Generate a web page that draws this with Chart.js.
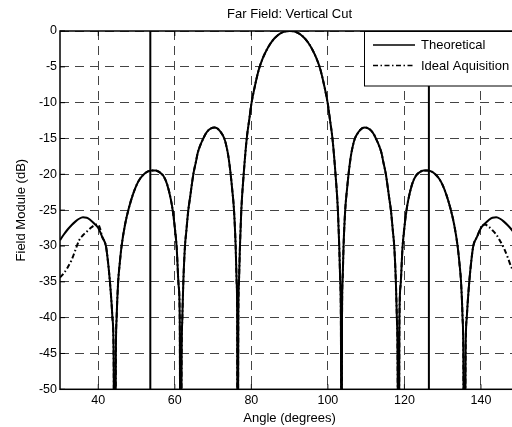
<!DOCTYPE html>
<html><head><meta charset="utf-8">
<script src="https://cdn.jsdelivr.net/npm/chart.js@4.4.1/dist/chart.umd.min.js"></script>
<style>html,body{margin:0;padding:0;overflow:hidden;background:#fff;} canvas{display:block;}</style>
</head><body>
<canvas id="c" width="540" height="427" style="width:540px;height:427px"></canvas>
<script>
const chartTitle = 'Far Field: Vertical Cut';
const xTitle = 'Angle (degrees)';
const yTitle = 'Field Module (dB)';
const seriesNames = ['Theoretical', 'Ideal Aquisition'];
const xTicks = [40, 60, 80, 100, 120, 140];
const yTicks = [-50, -45, -40, -35, -30, -25, -20, -15, -10, -5, 0];

const thAngles = [
  30,31,32,33,34,35,36,37,38,39,40,41,42,42.5,43,43.5,43.7,44,44.32,
  44.6,44.8,45.2,45.6,46.1,47,48,49,50,51,52,53,54,55,56,57,58,59,59.5,60,60.5,61,61.3,61.5,
  61.79,61.97,62.23,62.66,63,63.53,64,64.84,65.5,66,66.7,67.45,68,69,70.3,71,72,72.94,73.5,74,74.6,75,75.47,75.9,76.16,76.3,76.4,
  76.6,76.77,77.03,77.38,78,78.8,79.5,80,81,82,83,84,85,86,87,88,89,90,91,92,93,94,95,96,97,98,99,100,100.5,101.2,102,102.62,102.97,103.23,103.4,103.6,
  103.7,103.84,104.1,104.53,105,105.4,106,106.5,107.06,108,109,109.7,111,112,112.55,113.3,114,114.5,115.16,116,116.47,117,117.34,117.77,118.03,118.21,118.5,
  118.7,119,119.5,120,120.5,121,122,123,124,125,126,127,128,129,130,131,132,133,133.9,134.4,134.8,135.2,135.4,135.68,
  136,136.3,136.5,137,137.5,138,139,140,141,142,143,144,145,146,147,148,149,150
];
const thValues = [
  -29.2,-28.4,-27.7,-27.1,-26.6,-26.2,-26.0,-26.05,-26.4,-26.9,-27.5,-28.7,-30.0,-32.0,-34.7,-38.2,-40,-44.5,-80,
  -45,-40,-35,-32.5,-30,-27.0,-24.7,-22.9,-21.5,-20.55,-19.95,-19.6,-19.45,-19.45,-19.7,-20.2,-21.4,-23.6,-25.2,-27.4,-30.3,-35.5,-40.5,-80,
  -45,-40,-35,-30,-28.0,-25,-23.2,-20,-18.3,-17.0,-15.9,-15,-14.4,-13.75,-13.45,-13.55,-14.1,-15,-16.1,-17.5,-20,-22.1,-25,-30,-35,-40,-80,
  -40,-35,-30,-25,-20,-15,-12.2,-10.2,-7.5,-5.3,-3.8,-2.65,-1.75,-1.05,-0.55,-0.22,-0.05,0,-0.05,-0.22,-0.55,-1.05,-1.75,-2.65,-3.8,-5.3,-7.5,-10.2,-12.2,-15,-20,-25,-30,-35,-40,-80,
  -40,-35,-30,-25,-22.1,-20,-17.5,-16.1,-15,-14.1,-13.55,-13.45,-13.75,-14.4,-15,-15.9,-17.0,-18.3,-20,-23.2,-25,-28.0,-30,-35,-40,-45,-80,
  -40.5,-35.5,-30.3,-27.4,-25.2,-23.6,-21.4,-20.2,-19.7,-19.45,-19.45,-19.6,-19.95,-20.55,-21.5,-22.9,-24.7,-27.0,-30,-32.5,-35,-40,-45,-80,
  -44.5,-40,-38.2,-34.7,-32.0,-30.0,-28.7,-27.5,-26.9,-26.4,-26.05,-26.0,-26.2,-26.6,-27.1,-27.7,-28.4,-29.2
];

// Ideal acquisition differs from the theoretical curve only near the ends
const idealLeftAngles = [30,31,32,33,34,35,36,37,38,39,40,40.5];
const idealLeftValues = [-34.4,-33.8,-33.0,-32.0,-30.6,-29.2,-28.5,-28.0,-27.5,-27.1,-27.0,-27.6];
const idealRightAngles = [140.5,141,142,143,144,145,146,147,148,149,150];
const idealRightValues = [-27.1,-27.0,-27.3,-27.8,-28.4,-29.3,-30.3,-31.6,-33.0,-34.0,-34.8];

const markerAngles = [53.6, 126.4];
const markerRange = [-50, 0];

const FONT = "'Liberation Sans', Arial, Helvetica, sans-serif";
const toPts = (xs, ys) => xs.map((x, i) => ({x: x, y: ys[i]}));
const theo = toPts(thAngles, thValues);
const ideal = [
  ...toPts(idealLeftAngles, idealLeftValues),
  ...theo.filter(p => p.x > idealLeftAngles[idealLeftAngles.length - 1] && p.x < idealRightAngles[0]),
  ...toPts(idealRightAngles, idealRightValues)
];

const baseLine = {borderColor: '#000', pointRadius: 0, fill: false, cubicInterpolationMode: 'monotone'};
const datasets = [
  Object.assign({label: seriesNames[0], data: theo, borderWidth: 2}, baseLine),
  Object.assign({label: seriesNames[1], data: ideal, borderWidth: 2, borderDash: [5, 2.5, 1.5, 2.5]}, baseLine)
];
markerAngles.forEach(a => datasets.push({
  label: '', data: markerRange.map(v => ({x: a, y: v})),
  borderColor: '#000', borderWidth: 2, pointRadius: 0
}));

const framePlugin = {
  id: 'frame',
  afterDatasetsDraw(chart) {
    const {ctx, chartArea: a, scales: {x, y}} = chart;
    ctx.save();
    const seg = (x1, y1, x2, y2) => { ctx.beginPath(); ctx.moveTo(x1, y1); ctx.lineTo(x2, y2); ctx.stroke(); };
    ctx.strokeStyle = '#000';
    ctx.lineWidth = 1;
    xTicks.forEach(v => { const p = x.getPixelForValue(v); seg(p, a.bottom, p, a.bottom - 5); seg(p, a.top, p, a.top + 5); });
    yTicks.forEach(v => { const p = y.getPixelForValue(v); seg(a.left, p, a.left + 5, p); seg(a.right, p, a.right - 5, p); });
    ctx.lineWidth = 1.5;
    ctx.strokeRect(a.left, a.top, a.right - a.left, a.bottom - a.top);

    // legend
    const lx = 364.5, ly = a.top + 0.5, lw = 260, lh = 54.5;
    ctx.fillStyle = '#fff';
    ctx.fillRect(lx, ly, lw, lh);
    ctx.lineWidth = 1;
    ctx.strokeRect(lx, ly, lw, lh);
    ctx.font = '13px ' + FONT;
    ctx.textBaseline = 'middle';
    ctx.textAlign = 'left';
    chart.data.datasets.filter(d => d.label).forEach((d, i) => {
      const yy = a.top + 14 + i * 20.5;
      ctx.strokeStyle = '#000';
      ctx.lineWidth = 1.5;
      ctx.setLineDash(d.borderDash || []);
      seg(373, yy, 415, yy);
      ctx.setLineDash([]);
      ctx.fillStyle = '#000';
      ctx.fillText(d.label, 421, yy + 0.5);
    });
    ctx.restore();
  }
};

new Chart(document.getElementById('c'), {
  type: 'line',
  data: {datasets: datasets},
  plugins: [framePlugin],
  options: {
    responsive: false,
    animation: false,
    devicePixelRatio: 1,
    layout: {padding: {left: 0, right: 20.8, top: 0, bottom: 0}},
    plugins: {
      legend: {display: false},
      tooltip: {enabled: false},
      title: {display: true, text: chartTitle, fullSize: false, color: '#000',
              font: {family: FONT, size: 13, weight: 'normal'}, padding: {top: 7, bottom: 8.4}}
    },
    scales: {
      x: {
        type: 'linear', min: 30, max: 150,
        afterBuildTicks: s => { s.ticks = xTicks.map(v => ({value: v})); },
        afterFit: s => { s.height = 37.7; },
        grid: {color: '#444', lineWidth: 1, drawTicks: false},
        border: {display: false, dash: [9, 6]},
        ticks: {color: '#000', font: {family: FONT, size: 12.5}, padding: 4, maxRotation: 0, autoSkip: false},
        title: {display: true, text: xTitle, color: '#000', font: {family: FONT, size: 13}, padding: {top: 0, bottom: 0.5}}
      },
      y: {
        type: 'linear', min: -50, max: 0,
        afterBuildTicks: s => { s.ticks = yTicks.map(v => ({value: v})); },
        afterFit: s => { s.width = 60; },
        grid: {color: '#444', lineWidth: 1, drawTicks: false},
        border: {display: false, dash: [9, 6]},
        ticks: {color: '#000', font: {family: FONT, size: 12.5}, padding: 3, autoSkip: false},
        title: {display: true, text: yTitle, color: '#000', font: {family: FONT, size: 13}, padding: {top: 13.2, bottom: 0}}
      }
    }
  }
});
</script>
</body></html>
